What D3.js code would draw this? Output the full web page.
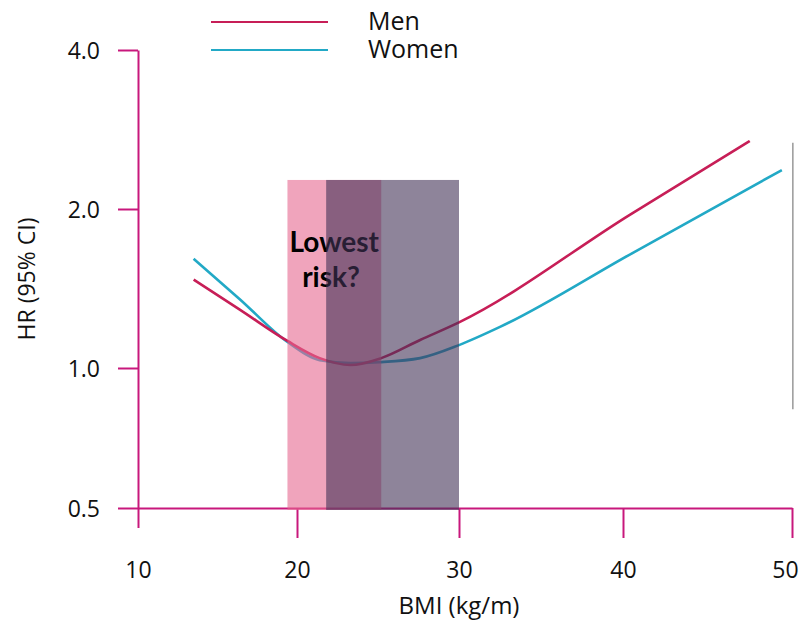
<!DOCTYPE html>
<html><head><meta charset="utf-8">
<script src="https://cdn.jsdelivr.net/npm/d3@7"></script>
<style>body{margin:0;background:#fff} svg{display:block} text{font-family:"Open Sans",sans-serif;fill:#111}</style>
</head><body><svg id="c" width="800" height="622"></svg>
<script>
const xTicks = [10, 20, 30, 40, 50];
const yTicks = [0.5, 1.0, 2.0, 4.0];
const seriesNames = ["Men", "Women"];
const menBMI = [13.5, 16.4, 19.4, 21.4, 23.3, 25.2, 27.6, 30.0, 40.4, 47.5];
const menHR  = [1.47, 1.29, 1.125, 1.044, 1.013, 1.044, 1.13, 1.22, 1.95, 2.69];
const womenBMI = [13.5, 16.4, 19.4, 21.4, 23.3, 25.1, 27.6, 30.0, 32.5, 40.4, 49.4];
const womenHR  = [1.61, 1.35, 1.12, 1.035, 1.022, 1.026, 1.044, 1.105, 1.196, 1.64, 2.37];
const zoneStart = [19.4, 21.8];
const zoneEnd = [25.2, 30.0];
const zoneTop = 2.27;
const refLineBMI = 50.05;
const refLineHR = [0.815, 2.67];
const noteLines = ["Lowest", "risk?"];

const svg = d3.select("#c");
const x = d3.scaleLinear().domain([10, 20, 30, 40, 50]).range([138, 297, 459, 623, 792]);
const y = d3.scaleLog().domain([0.5, 1, 2, 4]).range([508, 368, 209, 50]);
const axisColor = "#c8187c";

// axes
const gy = svg.append("g").attr("transform", `translate(${x(10)},0)`)
  .call(d3.axisLeft(y).tickValues(yTicks).tickSize(20).tickSizeOuter(0).tickPadding(18).tickFormat(d3.format(".1f")));
const gx = svg.append("g").attr("transform", `translate(0,${y(0.5)})`)
  .call(d3.axisBottom(x).tickValues(xTicks).tickSize(30).tickSizeOuter(0).tickFormat(d3.format("d")));
[gy, gx].forEach(g => {
  g.select(".domain").attr("stroke", axisColor).attr("stroke-width", 2);
  g.selectAll(".tick line").attr("stroke", axisColor).attr("stroke-width", 2);
  g.selectAll("text").style("font-size", "23px").style("fill", "#111");
});
gx.selectAll("text").attr("y", 70).attr("dy", 0);
gx.selectAll(".tick").filter(d => d === 10).select("line").attr("y2", 20);
gx.selectAll(".tick").filter(d => d === 50).select("text").attr("dx", -7);
gy.selectAll("text").attr("dy", "0.36em");

// lines
const line = d3.line().x(d => x(d[0])).y(d => y(d[1])).curve(d3.curveMonotoneX);
const men = menBMI.map((b, i) => [b, menHR[i]]);
const women = womenBMI.map((b, i) => [b, womenHR[i]]);
const colors = ["#c71e57", "#22a9c6"];
svg.append("path").attr("d", line(women)).attr("fill", "none").attr("stroke", colors[1]).attr("stroke-width", 2.6);
svg.append("path").attr("d", line(men)).attr("fill", "none").attr("stroke", colors[0]).attr("stroke-width", 2.6);

// pink zone
svg.append("rect")
  .attr("x", x(zoneStart[0])).attr("width", x(zoneEnd[0]) - x(zoneStart[0]))
  .attr("y", y(zoneTop)).attr("height", y(0.5) + 2 - y(zoneTop))
  .attr("fill", "#e6678f").attr("fill-opacity", 0.6);

// note
const note = svg.append("text").attr("text-anchor", "middle")
  .style("font-family", "Lato, sans-serif").style("font-weight", "bold").style("font-size", "28px").style("fill", "#000");
note.append("tspan").attr("x", x(22.3)).attr("y", 252).text(noteLines[0]);
note.append("tspan").attr("x", x(22.1)).attr("y", 287).text(noteLines[1]);

// grey zone
svg.append("rect")
  .attr("x", x(zoneStart[1])).attr("width", x(zoneEnd[1]) - x(zoneStart[1]))
  .attr("y", y(zoneTop)).attr("height", y(0.5) + 2 - y(zoneTop))
  .attr("fill", "#433257").attr("fill-opacity", 0.6);

// right reference line
svg.append("line").attr("x1", x(refLineBMI)).attr("x2", x(refLineBMI))
  .attr("y1", y(refLineHR[0])).attr("y2", y(refLineHR[1]))
  .attr("stroke", "#999").attr("stroke-width", 1.5);

// legend
const lg = svg.append("g");
seriesNames.forEach((n, i) => {
  const yy = 22 + i * 28;
  lg.append("line").attr("x1", 211).attr("x2", 328).attr("y1", yy).attr("y2", yy)
    .attr("stroke", colors[i]).attr("stroke-width", 2);
  lg.append("text").attr("x", 368).attr("y", yy + 8).style("font-size", "25px").text(n);
});

// axis titles
svg.append("text").attr("transform", "translate(35,279) rotate(-90)").attr("text-anchor", "middle")
  .style("font-size", "23px").text("HR (95% CI)");
svg.append("text").attr("x", 459).attr("y", 614).attr("text-anchor", "middle")
  .style("font-size", "24px").text("BMI (kg/m)");
</script></body></html>
